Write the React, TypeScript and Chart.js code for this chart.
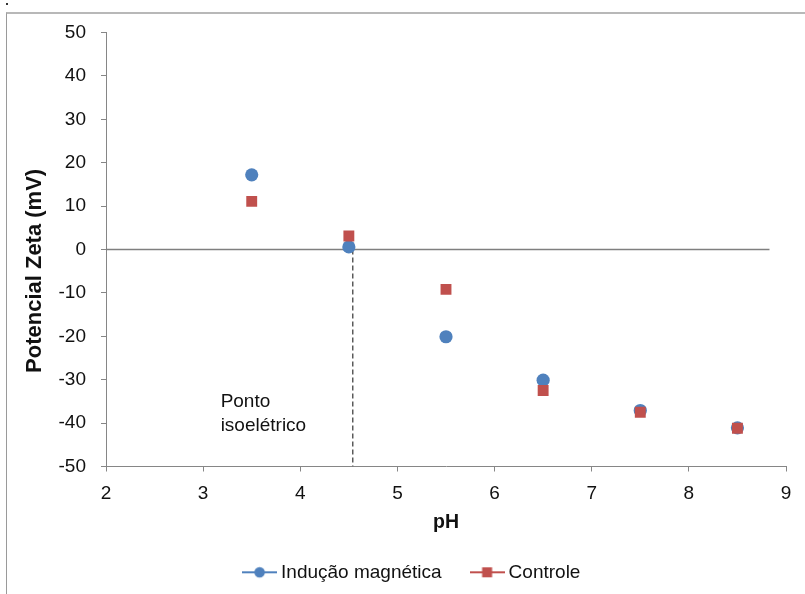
import React, { useEffect, useRef } from "react";
import { Chart, registerables } from "chart.js";

Chart.register(...registerables);

// ---- data ----
const phValues = [3.5, 4.5, 5.5, 6.5, 7.5, 8.5];
const inducaoValues = [17.2, 0.6, -20.1, -30.1, -37.1, -41.1];
const controleValues = [11.1, 3.1, -9.2, -32.5, -37.5, -41.2];
const seriesNames = ["Indução magnética", "Controle"];
const zeroLineX = [2, 8.83];
const zeroLineY = [0, 0];
const isoelectricX = [4.54, 4.54];
const isoelectricY = [0, -50];
const annotationLines = ["Ponto", "isoelétrico"];
const annotationAt = { x: 3.18, y: -36.4 };
const xAxisTitle = "pH";
const yAxisTitle = "Potencial Zeta (mV)";

const BLUE = "#4F81BD";
const RED = "#C0504D";
const AXIS = "#868686";
const FONT = "'Liberation Sans', Arial, sans-serif";
const FS = 19;
const LEGEND_PAD = 33.5;

function legendImage(color: string, shape: "circle" | "square") {
  const c = document.createElement("canvas");
  c.width = 35;
  c.height = 14;
  const g = c.getContext("2d")!;
  g.strokeStyle = color;
  g.lineWidth = 2;
  g.beginPath();
  g.moveTo(0, 7);
  g.lineTo(35, 7);
  g.stroke();
  g.fillStyle = color;
  if (shape === "circle") {
    g.beginPath();
    g.arc(17.5, 7, 5.3, 0, Math.PI * 2);
    g.fill();
  } else {
    g.fillRect(12.5, 2, 10, 10);
  }
  return c;
}

export default function App() {
  const ref = useRef<HTMLCanvasElement | null>(null);

  useEffect(() => {
    if (!ref.current) return;
    const imgs = [legendImage(BLUE, "circle"), legendImage(RED, "square")];

    const annotationPlugin = {
      id: "isoAnnotation",
      afterDatasetsDraw(chart: any) {
        const { ctx, scales } = chart;
        const x = scales.x.getPixelForValue(annotationAt.x);
        const y = scales.y.getPixelForValue(annotationAt.y);
        ctx.save();
        ctx.font = `${FS}px ${FONT}`;
        ctx.fillStyle = "#111";
        ctx.textAlign = "left";
        ctx.textBaseline = "alphabetic";
        annotationLines.forEach((t, i) => ctx.fillText(t, x, y + i * 23.3));
        ctx.restore();
      },
    };

    const legendPlace = {
      id: "legendPlace",
      afterLayout(chart: any) {
        const l = chart.legend;
        if (!l) return;
        const h = l.bottom - l.top;
        l.left += 11;
        l.right += 11;
        l.top = 572.3 - LEGEND_PAD - FS / 2;
        l.bottom = l.top + h;
      },
    };

    const chart = new Chart(ref.current, {
      type: "scatter",
      data: {
        datasets: [
          {
            label: seriesNames[0],
            data: phValues.map((x, i) => ({ x, y: inducaoValues[i] })),
            backgroundColor: BLUE,
            borderColor: BLUE,
            borderWidth: 0,
            pointStyle: "circle",
            pointRadius: 6.6,
            order: 2,
          },
          {
            label: seriesNames[1],
            data: phValues.map((x, i) => ({ x, y: controleValues[i] })),
            backgroundColor: RED,
            borderColor: RED,
            borderWidth: 0,
            pointStyle: "rect",
            pointRadius: 7.7,
            order: 1,
          },
          {
            label: "zero",
            data: zeroLineX.map((x, i) => ({ x, y: zeroLineY[i] })),
            showLine: true,
            borderColor: "#7f7f7f",
            borderWidth: 1.5,
            pointRadius: 0,
            order: 4,
          },
          {
            label: "iso",
            data: isoelectricX.map((x, i) => ({ x, y: isoelectricY[i] })),
            showLine: true,
            borderColor: "#5a5a5a",
            borderWidth: 1.5,
            borderDash: [5, 3],
            pointRadius: 0,
            order: 3,
          },
        ] as any,
      },
      options: {
        animation: false,
        responsive: false,
        devicePixelRatio: 1,
        layout: { padding: { top: 32.5, left: 20, right: 19, bottom: 0 } },
        plugins: {
          tooltip: { enabled: false },
          legend: {
            position: "bottom",
            labels: {
              usePointStyle: true,
              pointStyleWidth: 24,
              padding: LEGEND_PAD,
              color: "#111",
              font: { family: FONT, size: FS },
              generateLabels: () =>
                [0, 1].map((i) => ({
                  text: seriesNames[i],
                  datasetIndex: i,
                  pointStyle: imgs[i],
                  fillStyle: "transparent",
                  strokeStyle: "transparent",
                  lineWidth: 0,
                  hidden: false,
                  fontColor: "#111",
                })),
            },
          },
        },
        scales: {
          x: {
            type: "linear",
            min: 2,
            max: 9,
            afterFit: (s: any) => {
              s.height = 73;
            },
            ticks: {
              stepSize: 1,
              padding: 11,
              color: "#111",
              font: { family: FONT, size: FS },
            },
            grid: {
              display: true,
              drawOnChartArea: false,
              drawTicks: true,
              tickLength: 5,
              color: AXIS,
            },
            border: { display: true, color: AXIS, width: 1 },
            title: {
              display: true,
              text: xAxisTitle,
              color: "#111",
              font: { family: FONT, size: 19.5, weight: "bold" },
              padding: { top: 4, bottom: 4.7 },
            },
          },
          y: {
            type: "linear",
            min: -50,
            max: 50,
            afterFit: (s: any) => {
              s.width = 86;
            },
            ticks: {
              stepSize: 10,
              padding: 15,
              color: "#111",
              font: { family: FONT, size: FS },
            },
            grid: {
              display: true,
              drawOnChartArea: false,
              drawTicks: true,
              tickLength: 5,
              color: AXIS,
            },
            border: { display: true, color: AXIS, width: 1 },
            title: {
              display: true,
              text: yAxisTitle + "       ",
              color: "#111",
              font: { family: FONT, size: 22, weight: "bold" },
              padding: { top: 2.2, bottom: 4 },
            },
          },
        },
      } as any,
      plugins: [annotationPlugin, legendPlace],
    });
    return () => chart.destroy();
  }, []);

  return (
    <div
      style={{
        position: "fixed",
        left: 0,
        top: 0,
        width: 805,
        height: 594,
        overflow: "hidden",
        background: "#fff",
      }}
    >
      <div
        style={{
          position: "absolute",
          left: 6,
          top: 3,
          width: 2,
          height: 2,
          background: "#333",
        }}
      />
      <div
        style={{
          position: "absolute",
          left: 6,
          top: 12,
          width: 900,
          height: 700,
          borderLeft: "1px solid #9a9a9a",
          borderTop: "2px solid #b8b8b8",
        }}
      />
      <canvas
        ref={ref}
        width={805}
        height={602}
        style={{ position: "absolute", left: 0, top: 0, width: 805, height: 602 }}
      />
    </div>
  );
}
